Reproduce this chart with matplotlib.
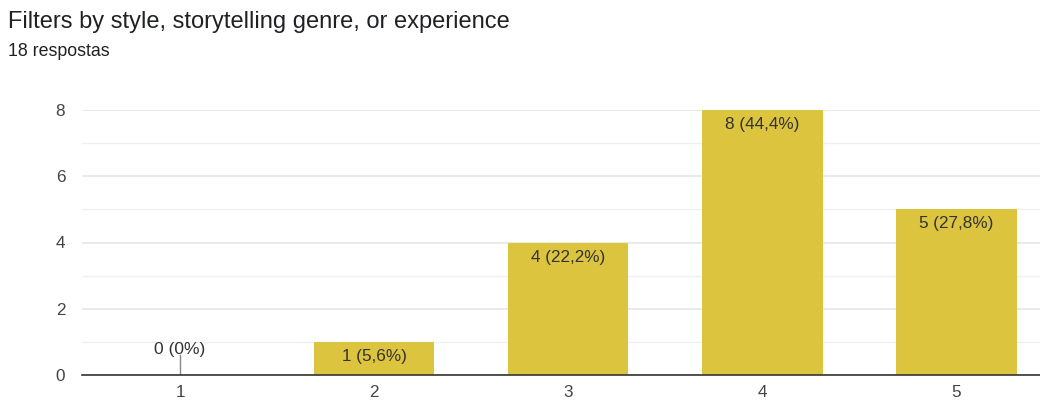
import matplotlib
matplotlib.use("Agg")
import matplotlib.pyplot as plt

plt.rcParams['font.family'] = ['Liberation Sans', 'DejaVu Sans']

categories = ["1", "2", "3", "4", "5"]
counts = [0, 1, 4, 8, 5]
labels = ["0 (0%)", "1 (5,6%)", "4 (22,2%)", "8 (44,4%)", "5 (27,8%)"]
yticks = [0, 2, 4, 6, 8]
title = "Filters by style, storytelling genre, or experience"
subtitle = "18 respostas"

W, H = 1040, 401
fig = plt.figure(figsize=(W / 100, H / 100), dpi=100)
fig.patch.set_facecolor("white")

ax = fig.add_axes([82 / W, (H - 375) / H, 1 - 82 / W, 265 / H])
x = list(range(1, len(categories) + 1))
bar_color = "#DCC43E"
ax.bar(x, counts, width=0.62, color=bar_color, zorder=3)

ax.set_xlim(0.495, 5.43)
ax.set_ylim(0, 8)
ax.set_yticks(yticks)
ax.set_yticks([1, 3, 5, 7], minor=True)
ax.set_xticks(x)
ax.set_xticklabels(categories)
ax.grid(axis="y", which="major", color="#e6e6e6", linewidth=1.2, zorder=0)
ax.grid(axis="y", which="minor", color="#f0f0f0", linewidth=1.0, zorder=0)
for s in ["left", "right", "top"]:
    ax.spines[s].set_visible(False)
ax.spines["bottom"].set_color("#333333")
ax.spines["bottom"].set_linewidth(1.2)
ax.spines["bottom"].set_zorder(4)
ax.tick_params(axis="both", which="both", length=0, labelsize=12.3, labelcolor="#444444")
ax.tick_params(axis="x", pad=7)
ax.tick_params(axis="y", pad=12)

for xi, c, lab in zip(x, counts, labels):
    if c == 0:
        ax.plot([xi, xi], [0, 0.6], color="#888888", lw=1, zorder=4)
        ax.text(xi, 0.78, lab, ha="center", va="center", fontsize=12.5, color="#333333", zorder=5)
    else:
        ax.annotate(lab, (xi, c), xytext=(0, -10.5), textcoords="offset points",
                    ha="center", va="center", fontsize=12.3, color="#333333", zorder=5)

fig.text(8 / W, 1 - 22 / H, title, ha="left", va="center", fontsize=17, color="#202124")
fig.text(8 / W, 1 - 52 / H, subtitle, ha="left", va="center", fontsize=12.8, color="#202124")

fig.savefig("out.png", dpi=100, facecolor="white")
